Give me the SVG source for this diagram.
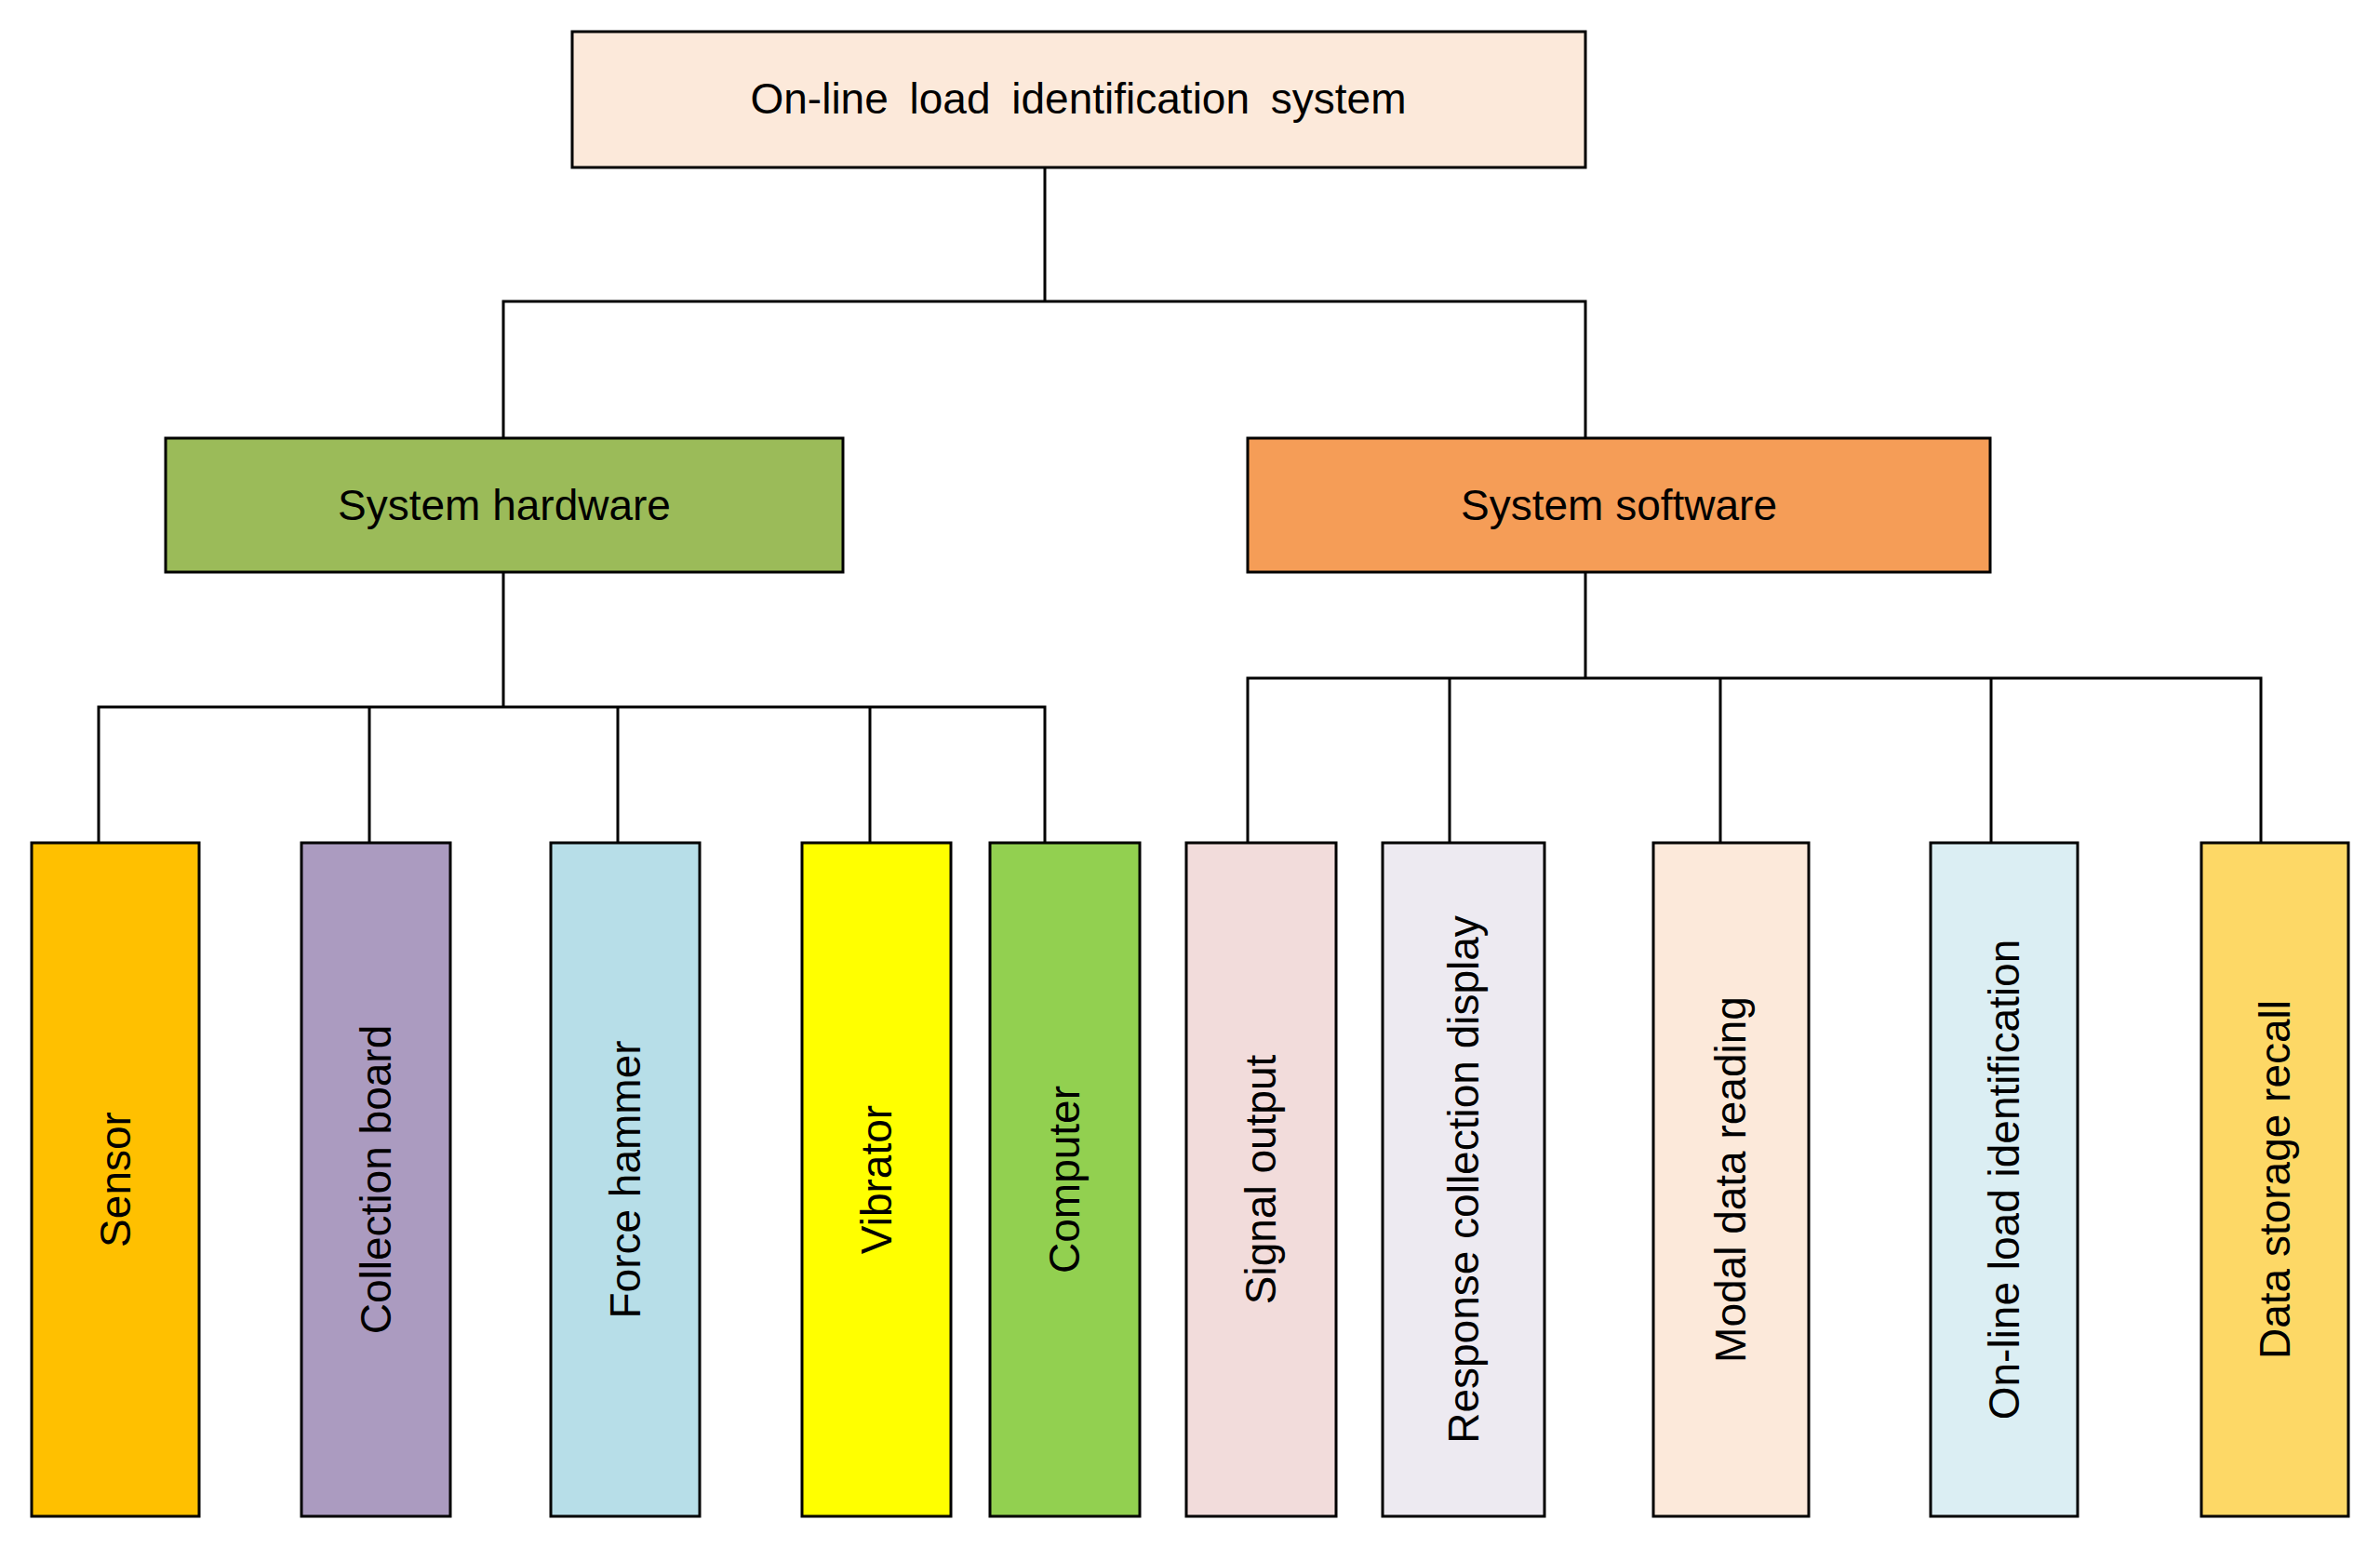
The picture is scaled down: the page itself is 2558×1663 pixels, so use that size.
<svg xmlns="http://www.w3.org/2000/svg" width="2558" height="1663" viewBox="0 0 2558 1663">
<style>
rect{stroke:#000;stroke-width:3}
text{font-family:"Liberation Sans",Arial,sans-serif;font-size:46px;fill:#000;text-anchor:middle;dominant-baseline:central}
.c{fill:none;stroke:#000;stroke-width:3}
</style>
<rect width="2558" height="1663" fill="#fff" style="stroke:none"/>
<g id="connectors">
<path class="c" d="M1123 180V324M541 471V324H1704V471M541 615V760M106 906V760H1123V906M397 760V906M664 760V906M935 760V906M1704 615V729M1341 906V729H2430V906M1558 729V906M1849 729V906M2140 729V906"/>
</g>
<g id="root"><rect x="615" y="34" width="1089" height="146" fill="#FCE9DA"/><text x="1159" y="106" word-spacing="10">On-line load identification system</text></g>
<g id="hardware"><rect x="178" y="471" width="728" height="144" fill="#9BBB59"/><text x="542" y="543">System hardware</text></g>
<g id="software"><rect x="1341" y="471" width="798" height="144" fill="#F59D57"/><text x="1740" y="543">System software</text></g>
<g id="sensor"><rect x="34" y="906" width="180" height="724" fill="#FFC000"/><text transform="translate(124,1268) rotate(-90)">Sensor</text></g>
<g id="collection"><rect x="324" y="906" width="160" height="724" fill="#AB9BC0"/><text transform="translate(404,1268) rotate(-90)">Collection board</text></g>
<g id="hammer"><rect x="592" y="906" width="160" height="724" fill="#B7DEE8"/><text transform="translate(672,1268) rotate(-90)">Force hammer</text></g>
<g id="vibrator"><rect x="862" y="906" width="160" height="724" fill="#FFFF00"/><text transform="translate(942,1268) rotate(-90)">Vibrator</text></g>
<g id="computer"><rect x="1064" y="906" width="161" height="724" fill="#92D050"/><text transform="translate(1144,1268) rotate(-90)">Computer</text></g>
<g id="signal"><rect x="1275" y="906" width="161" height="724" fill="#F2DCDB"/><text transform="translate(1355,1268) rotate(-90)">Signal output</text></g>
<g id="response"><rect x="1486" y="906" width="174" height="724" fill="#EDEAF1"/><text transform="translate(1573,1268) rotate(-90)">Response collection display</text></g>
<g id="modal"><rect x="1777" y="906" width="167" height="724" fill="#FCE9DA"/><text transform="translate(1860,1268) rotate(-90)">Modal data reading</text></g>
<g id="online"><rect x="2075" y="906" width="158" height="724" fill="#DBEEF3"/><text transform="translate(2154,1268) rotate(-90)">On-line load identification</text></g>
<g id="storage"><rect x="2366" y="906" width="158" height="724" fill="#FDD866"/><text transform="translate(2445,1268) rotate(-90)">Data storage recall</text></g>
</svg>
